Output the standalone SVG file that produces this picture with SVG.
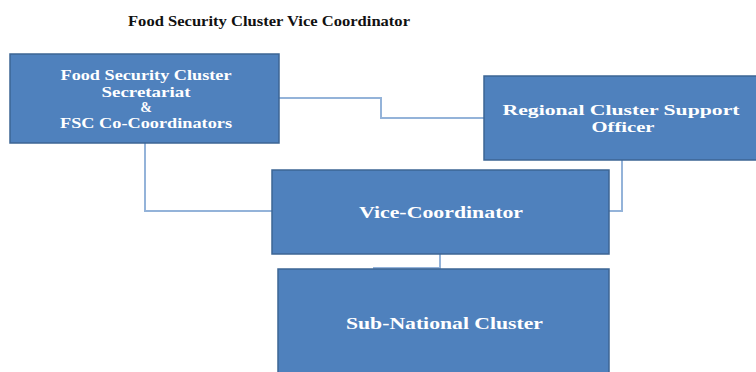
<svg xmlns="http://www.w3.org/2000/svg" width="756" height="372" viewBox="0 0 756 372">
<style>
.box{fill:#4f81bd;stroke:#3c6594;stroke-width:1.5}
.lbl{font-family:"Liberation Serif","Times New Roman",serif;font-weight:bold;fill:#ffffff;text-anchor:middle}
.title{font-family:"Liberation Serif","Times New Roman",serif;font-weight:bold;fill:#111111;text-anchor:middle;font-size:15px}
.conn{fill:none;stroke:#94b3d9;stroke-width:2}
</style>
<rect width="756" height="372" fill="#ffffff"/>
<text class="title" x="269" y="26" textLength="282" lengthAdjust="spacingAndGlyphs">Food Security Cluster Vice Coordinator</text>
<g id="connectors">
<polyline class="conn" points="279,98 381,98 381,118 484,118"/>
<polyline class="conn" points="145,143 145,211 272,211"/>
<polyline class="conn" points="622,160 622,211 609,211"/>
<polyline class="conn" points="440,254 440,268 373,268"/>
</g>
<g id="secretariat">
<rect class="box" x="10" y="54" width="269" height="89"/>
<text class="lbl" font-size="14" x="146" y="80" textLength="171" lengthAdjust="spacingAndGlyphs">Food Security Cluster</text>
<text class="lbl" font-size="14" x="146" y="97" textLength="89" lengthAdjust="spacingAndGlyphs">Secretariat</text>
<text class="lbl" font-size="14" x="146" y="112">&amp;</text>
<text class="lbl" font-size="14" x="146" y="128" textLength="172" lengthAdjust="spacingAndGlyphs">FSC Co-Coordinators</text>
</g>
<g id="regional">
<rect class="box" x="484" y="76" width="275" height="84"/>
<text class="lbl" font-size="15" x="621" y="115" textLength="237" lengthAdjust="spacingAndGlyphs">Regional Cluster Support</text>
<text class="lbl" font-size="15" x="623" y="132" textLength="63" lengthAdjust="spacingAndGlyphs">Officer</text>
</g>
<g id="vice">
<rect class="box" x="272" y="170" width="337" height="84"/>
<text class="lbl" font-size="16.5" x="441" y="218" textLength="164" lengthAdjust="spacingAndGlyphs">Vice-Coordinator</text>
</g>
<g id="subnational">
<rect class="box" x="278" y="269" width="331" height="110"/>
<text class="lbl" font-size="16.5" x="444.5" y="329" textLength="197" lengthAdjust="spacingAndGlyphs">Sub-National Cluster</text>
</g>
</svg>
